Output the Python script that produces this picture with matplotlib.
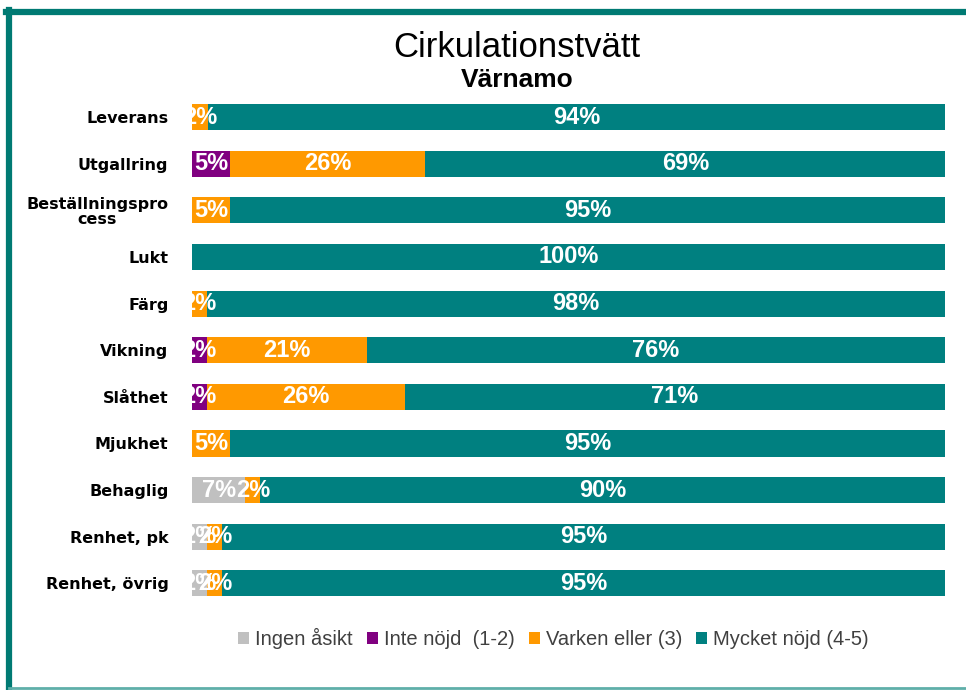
import numpy as np
import matplotlib.pyplot as plt
from matplotlib.lines import Line2D

categories = ['Leverans', 'Utgallring', 'Beställningspro\ncess', 'Lukt', 'Färg',
              'Vikning', 'Slåthet', 'Mjukhet', 'Behaglig', 'Renhet, pk', 'Renhet, övrig']
ingen = [0, 0, 0, 0, 0, 0, 0, 0, 7, 2, 2]
inte = [0, 5, 0, 0, 0, 2, 2, 0, 0, 0, 0]
varken = [2, 26, 5, 0, 2, 21, 26, 5, 2, 2, 2]
mycket = [94, 69, 95, 100, 98, 76, 71, 95, 90, 95, 95]

series = [ingen, inte, varken, mycket]
labels = ['Ingen åsikt', 'Inte nöjd  (1-2)', 'Varken eller (3)', 'Mycket nöjd (4-5)']
colors = ['#C0C0C0', '#800080', '#FF9900', '#008080']

data = np.array(series, dtype=float)
totals = data.sum(axis=0)
shares = data / totals * 100

fig = plt.figure(figsize=(9.66, 6.9), dpi=100)
ax = fig.add_axes([0.1988, 0.1207, 0.7795, 0.7435])

y = np.arange(len(categories))
left = np.zeros(len(categories))
for i in range(len(series)):
    ax.barh(y, shares[i], left=left, height=0.56, color=colors[i],
            label=labels[i], edgecolor='none')
    left += shares[i]

# labels on top of all bars (Excel style, small ones spill over)
left = np.zeros(len(categories))
for i in range(len(series)):
    for j in range(len(categories)):
        if data[i, j] > 0:
            ax.text(left[j] + shares[i, j] / 2, y[j], f"{int(data[i, j])}%",
                    ha='center', va='center', color='white', fontsize=17,
                    fontweight='bold', family='Liberation Sans', zorder=5)
    left += shares[i]

ax.set_xlim(0, 100)
ax.set_ylim(len(categories) - 0.5, -0.5)
ax.set_yticks(y)
ax.set_yticklabels(categories, fontsize=11.5, fontweight='bold', family='DejaVu Sans',
                   linespacing=1.0)
for t in ax.get_yticklabels():
    t.set_multialignment('center')
ax.tick_params(axis='y', length=0, pad=17)
ax.set_xticks([])
for s in ax.spines.values():
    s.set_visible(False)

fig.text(0.535, 0.931, 'Cirkulationstvätt', ha='center', va='center',
         fontsize=25, family='Liberation Sans')
fig.text(0.535, 0.884, 'Värnamo', ha='center', va='center',
         fontsize=19, fontweight='bold', family='Liberation Sans')

leg = fig.legend(loc='center', bbox_to_anchor=(0.573, 0.075), ncol=4, frameon=False,
                 handlelength=0.55, handleheight=0.55, handletextpad=0.3,
                 columnspacing=0.7, prop={'family': 'Liberation Sans', 'size': 14.5})
for t in leg.get_texts():
    t.set_color('#404040')

# teal frame
fig.add_artist(Line2D([0.006, 1.0], [0.983, 0.983], color='#007A73', linewidth=4.5))
fig.add_artist(Line2D([0.009, 0.009], [0.0, 0.985], color='#007A73', linewidth=4.5))
fig.add_artist(Line2D([0.009, 1.0], [0.003, 0.003], color='#5FAFA9', linewidth=2))

fig.savefig('out.png', dpi=100)
